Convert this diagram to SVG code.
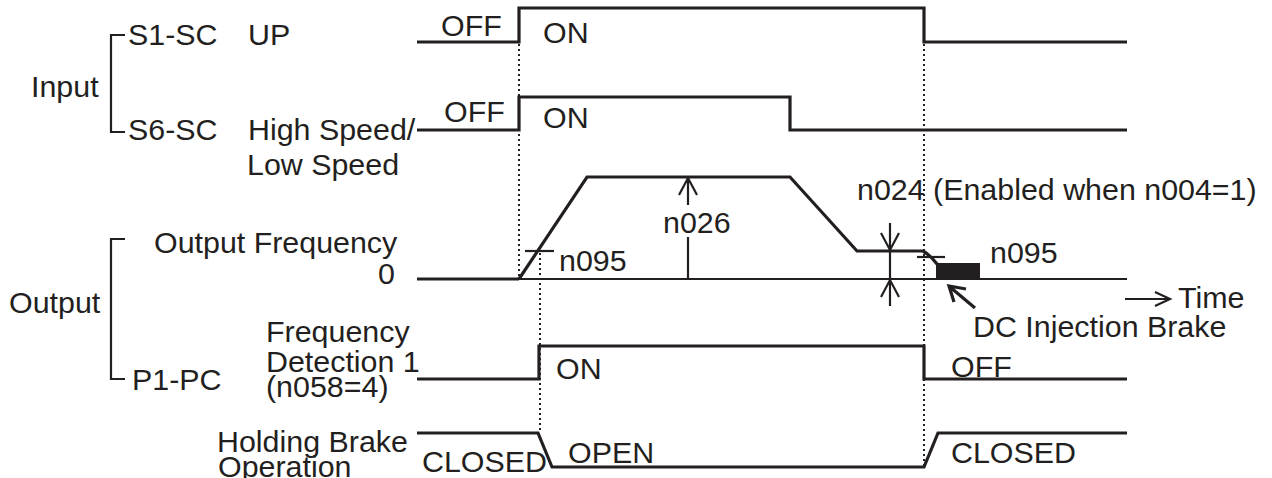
<svg xmlns="http://www.w3.org/2000/svg" width="1272" height="478" viewBox="0 0 1272 478">
<style>
text{font-family:"Liberation Sans",Arial,sans-serif;font-size:30.4px;fill:#231f20}
.tr{fill:none;stroke:#231f20;stroke-width:3.2;stroke-linejoin:miter}
.th{fill:none;stroke:#231f20;stroke-width:2.2}
.dot{fill:none;stroke:#231f20;stroke-width:2;stroke-dasharray:2 3}
</style>
<rect width="1272" height="478" fill="#fff"/>
<g id="labels">
<text x="31" y="97">Input</text>
<text x="128" y="45">S1-SC</text>
<text x="248" y="45">UP</text>
<text x="128" y="140">S6-SC</text>
<text x="248" y="140">High Speed/</text>
<text x="247" y="175">Low Speed</text>
<text x="9" y="313">Output</text>
<text x="154" y="253">Output Frequency</text>
<text x="378" y="284">0</text>
<text x="266" y="342">Frequency</text>
<text x="266" y="372">Detection 1</text>
<text x="266" y="397">(n058=4)</text>
<text x="132" y="390">P1-PC</text>
<text x="217" y="452">Holding Brake</text>
<text x="218" y="477">Operation</text>
</g>
<g id="brackets">
<path class="th" d="M125,35 H111 V132 H125"/>
<path class="th" d="M125,239 H111 V379 H125"/>
</g>
<g id="connectors">
<path class="dot" d="M519,44 V278"/>
<path class="dot" d="M540,253 V433"/>
<path class="dot" d="M924,44 V466"/>
</g>
<g id="up-signal">
<path class="tr" d="M417,42 H519 V8 H924 V42 H1127"/>
<text x="441" y="36">OFF</text>
<text x="543" y="43">ON</text>
</g>
<g id="speed-signal">
<path class="tr" d="M417,130 H519 V97 H790 V130 H1127"/>
<text x="444" y="122">OFF</text>
<text x="543" y="128">ON</text>
</g>
<g id="frequency">
<path class="tr" d="M417,279 H519"/>
<path class="th" d="M519,279 H1127"/>
<path class="tr" d="M519,279 L587,177 H790 L857,251 H923 Q930,255 937,264"/>
<rect x="936" y="263" width="44" height="16" fill="#231f20"/>
<path class="th" d="M525,251 H554"/>
<text x="559" y="271">n095</text>
<path class="th" d="M688,278 V237 M688,205 V178 M679,195 L688,178 L697,195"/>
<text x="663" y="233">n026</text>
<path class="th" d="M890,223 V306 M881,233 L890,250 L899,233 M881,297 L890,280 L899,297"/>
<text x="857" y="200">n024 (Enabled when n004=1)</text>
<path class="th" d="M917,257 H945"/>
<text x="990" y="263">n095</text>
<path class="tr" d="M975,308 L950,287 M966,289 L949,286 L954,302"/>
<text x="973" y="337">DC Injection Brake</text>
<path class="th" d="M1125,299 H1170 M1155,292 L1170,299 L1155,306"/>
<text x="1178" y="308">Time</text>
</g>
<g id="freq-detect">
<path class="tr" d="M417,379 H539 V346 H924 V379 H1127"/>
<text x="556" y="379">ON</text>
<text x="951" y="377">OFF</text>
</g>
<g id="brake">
<path class="tr" d="M417,433 H538 L552,467 H924 L938,433 H1127"/>
<text x="422" y="472">CLOSED</text>
<text x="568" y="463">OPEN</text>
<text x="951" y="463">CLOSED</text>
</g>
</svg>
